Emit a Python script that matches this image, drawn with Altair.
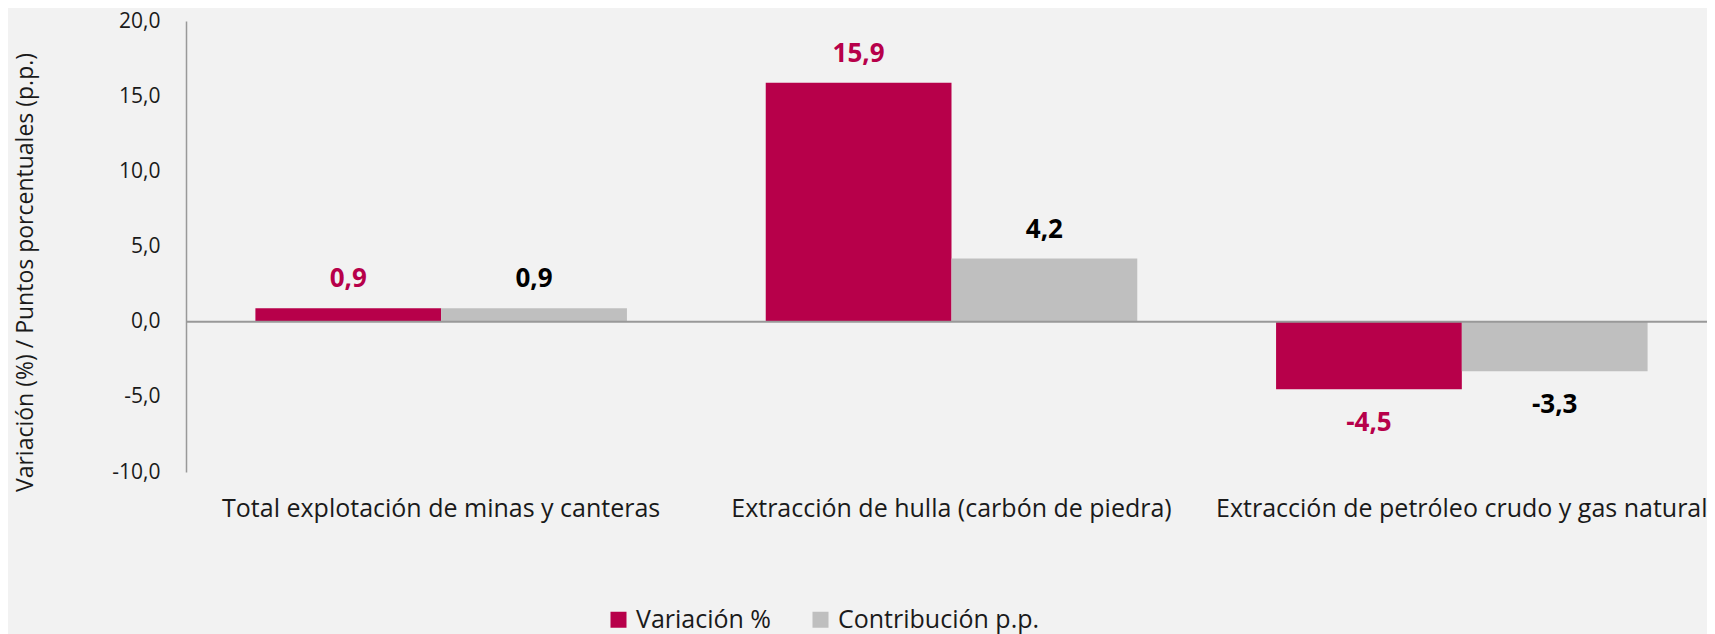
import altair as alt
import pandas as pd

categorias = [
    "Total explotación de minas y canteras",
    "Extracción de hulla (carbón de piedra)",
    "Extracción de petróleo crudo y gas natural",
]
variacion = [0.9, 15.9, -4.5]
contribucion = [0.9, 4.2, -3.3]
series = ["Variación %", "Contribución p.p."]
y_ticks = [-10, -5, 0, 5, 10, 15, 20]

rows = []
for c, v, p in zip(categorias, variacion, contribucion):
    rows.append({"categoria": c, "serie": series[0], "valor": v})
    rows.append({"categoria": c, "serie": series[1], "valor": p})
df = pd.DataFrame(rows)

RED = "#B7004A"
GRAY = "#BFBFBF"
FONT = "Open Sans"
TXT = "#1a1a1a"
FMT = "replace(replace(format({v}, '.1f'), '.', ','), '\u2212', '-')"

x = alt.X(
    "categoria:N",
    sort=categorias,
    scale=alt.Scale(paddingInner=0.272, paddingOuter=0.136, range=[0, 1531]),
    axis=alt.Axis(
        title=None, labelAngle=0, ticks=False, domain=False,
        labelFontSize=25, labelPadding=24, labelColor=TXT, labelFont=FONT,
        labelBaseline="top", labelLimit=1000,
    ),
)
xoff = alt.XOffset("serie:N", sort=series, scale=alt.Scale(paddingInner=0, paddingOuter=0))
y = alt.Y(
    "valor:Q",
    scale=alt.Scale(domain=[-10, 20], nice=False, zero=False),
    axis=alt.Axis(
        values=y_ticks,
        labelExpr=FMT.format(v="datum.value"),
        grid=False, ticks=False, domainColor="#999999", domainWidth=1.5,
        labelFontSize=21, labelPadding=26, labelColor=TXT, labelFont=FONT,
        title="Variación (%) / Puntos porcentuales (p.p.)",
        titleFontSize=23, titleFontWeight="normal", titleFont=FONT,
        titleColor=TXT, titleX=-161, titleY=251, titleAngle=270,
        titleAlign="center", titleBaseline="middle",
    ),
)

base = alt.Chart(df)

bars = base.mark_bar(strokeWidth=0).encode(
    x=x, xOffset=xoff, y=y,
    color=alt.Color(
        "serie:N", sort=series,
        scale=alt.Scale(domain=series, range=[RED, GRAY]),
        legend=alt.Legend(
            title=None, orient="none", legendX=420, legendY=586,
            direction="horizontal", symbolType="square", symbolSize=256,
            symbolStrokeWidth=0, labelFontSize=25, labelFont=FONT,
            labelColor=TXT, columnPadding=36, labelOffset=5, labelLimit=1000,
        ),
    ),
)

zero = alt.Chart(pd.DataFrame({"v": [0]})).mark_rule(color="#999999", strokeWidth=2).encode(
    y="v:Q", x=alt.value(0), x2=alt.value(1531)
)

label_color = alt.condition(alt.datum.serie == series[0], alt.value(RED), alt.value("#000000"))

txt_common = dict(fontWeight="bold", fontSize=26, font=FONT, baseline="middle")
pos_labels = base.transform_filter(alt.datum.valor >= 0).transform_calculate(
    lab=FMT.format(v="datum.valor")
).mark_text(dy=-29, **txt_common).encode(x=x, xOffset=xoff, y=y, text="lab:N", color=label_color)

neg_labels = base.transform_filter(alt.datum.valor < 0).transform_calculate(
    lab=FMT.format(v="datum.valor")
).mark_text(dy=34, **txt_common).encode(x=x, xOffset=xoff, y=y, text="lab:N", color=label_color)

chart = alt.layer(bars, zero, pos_labels, neg_labels).properties(
    width=1521, height=451,
    background="#F2F2F2",
    padding={"left": 178, "top": 13, "right": 0, "bottom": 162},
    autosize=alt.AutoSizeParams(type="none"),
).configure_view(stroke=None)

chart.save("out.html", embed_options={"renderer": "svg", "actions": False})
